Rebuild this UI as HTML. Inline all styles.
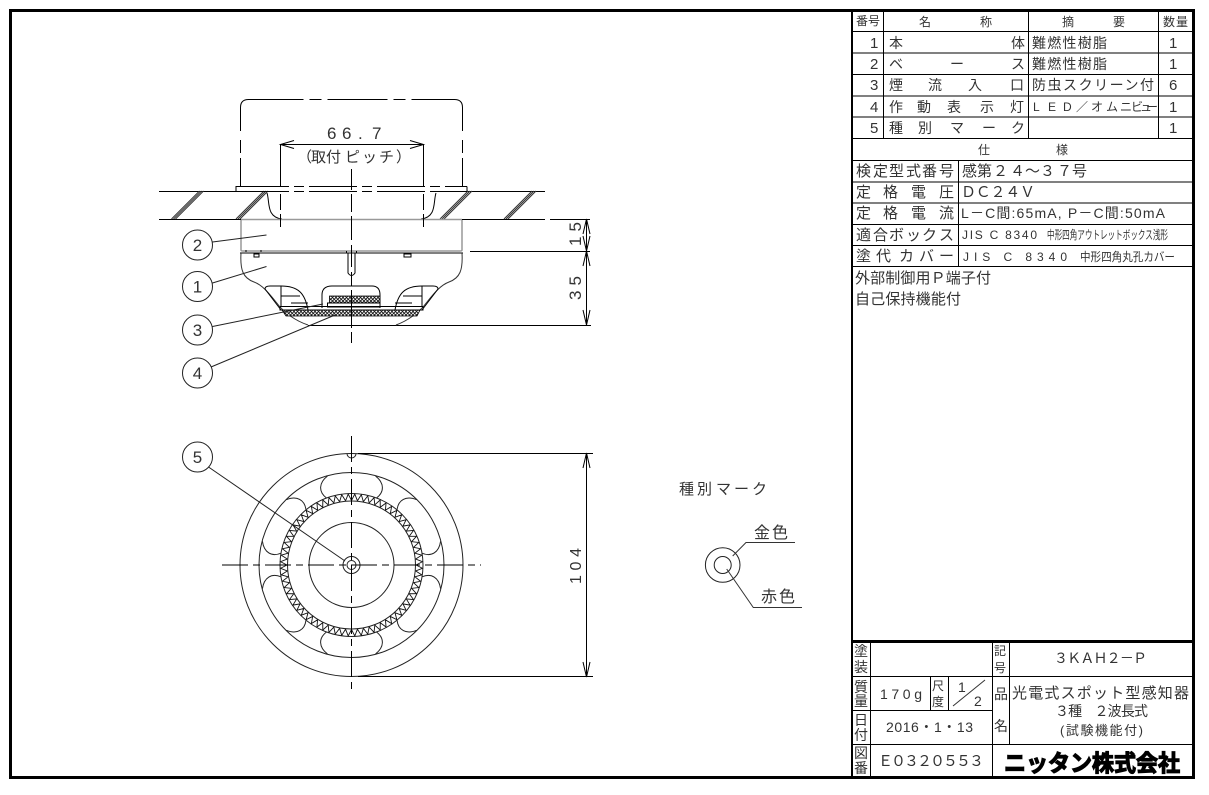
<!DOCTYPE html>
<html><head><meta charset="utf-8"><style>
html,body{margin:0;padding:0;background:#fff;width:1209px;height:795px;overflow:hidden}
svg{display:block}
text{font-family:"Liberation Sans","Noto Sans CJK JP",sans-serif;fill:#333;font-size:14px}
.l{stroke:#000;stroke-width:1;fill:none}
.g{stroke:#999;stroke-width:1.5;fill:none}
.t{stroke:#333;stroke-width:1;fill:none}
.dc{stroke:#000;stroke-width:1;fill:none;stroke-dasharray:48 5 10 5}
.m{font-size:15px}.s{font-size:12px}
</style></head><body>
<svg width="1209" height="795" viewBox="0 0 1209 795" xmlns="http://www.w3.org/2000/svg">
<defs>
<pattern id="hx" width="3.5" height="3.5" patternUnits="userSpaceOnUse"><rect width="3.5" height="3.5" fill="#fff"/><path d="M0 0L3.5 3.5M3.5 0L0 3.5" stroke="#111" stroke-width=".8"/></pattern>
</defs>
<rect x="10.5" y="10.5" width="1183" height="767" fill="none" stroke="#000" stroke-width="3"/>
<path d="M852 11V778" stroke="#000" stroke-width="2"/>
<path d="M852 641.5H1193" stroke="#000" stroke-width="3"/>

<!-- parts table lines -->
<path class="l" d="M853 31.5H1192M853 53H1192M853 74.5H1192M853 96H1192M853 117H1192M853 138.5H1192M853 160.5H1192M853 182H1192M853 203H1192M853 224.5H1192M853 245.5H1192M853 266.5H1192"/>
<path class="l" d="M883.5 11V138M1028.5 11V138M1158.5 11V138M958.5 160V266"/>
<!-- title block lines -->
<path class="l" d="M853 676.5H1192M853 710.5H992M853 744.5H1192"/>
<path class="l" d="M870.5 642V778M930.5 677V710M948.5 677V710M992.5 642V778M1009.5 642V744"/>

<!-- table header -->
<text class="s" x="856 868" y="25">番号</text>
<text class="s" x="919 980" y="26">名称</text>
<text class="s" x="1062 1113" y="26">摘要</text>
<text class="s" x="1163 1176" y="26">数量</text>
<text class="m" x="870" y="48">1</text><text class="m" x="870" y="69">2</text><text class="m" x="870" y="90">3</text><text class="m" x="870" y="112">4</text><text class="m" x="870" y="133">5</text>
<text class="m" x="1169" y="48">1</text><text class="m" x="1169" y="69">1</text><text class="m" x="1169" y="90">6</text><text class="m" x="1169" y="112">1</text><text class="m" x="1169" y="133">1</text>
<text x="889 1011" y="48">本体</text>
<text x="889 950 1011" y="69">ベース</text>
<text x="889 928 968 1010" y="90">煙流入口</text>
<text x="889 917 947 980 1010" y="112">作動表示灯</text>
<text x="889 918 950 982 1011" y="133">種別マーク</text>
<text x="1032" y="48" textLength="75">難燃性樹脂</text>
<text x="1032" y="69" textLength="75">難燃性樹脂</text>
<text x="1032" y="90" textLength="122">防虫スクリーン付</text>
<text class="s" x="1033 1048 1063 1076 1091 1106 1120 1131 1140 1146" y="111">LED／オムニビュー</text>
<text x="978 1056" y="154" class="s">仕様</text>

<text class="m" x="856 873 889 906 922 939" y="176">検定型式番号</text>
<text class="m" x="962 977 993 1010 1025 1040 1057 1072" y="176">感第２４～３７号</text>
<text class="m" x="856 883 911 939" y="197">定格電圧</text>
<text class="m" x="961" y="197" textLength="74">ＤＣ２４Ｖ</text>
<text class="m" x="856 883 911 939" y="218">定格電流</text>
<text x="961" y="218" textLength="204">L－C間:65mA, P－C間:50mA</text>
<text class="m" x="856 873 889 906 922 939" y="240">適合ボックス</text>
<text class="s" x="962" y="239" textLength="75" lengthAdjust="spacing">JIS C 8340</text>
<text class="s" x="1047" y="239" textLength="121" lengthAdjust="spacingAndGlyphs">中形四角アウトレットボックス浅形</text>
<text class="m" x="856 876 899 919 939" y="261">塗代カバー</text>
<text class="s" x="963" y="261" textLength="104" lengthAdjust="spacing">JIS C 8340</text>
<text class="s" x="1080" y="261" textLength="95" lengthAdjust="spacingAndGlyphs">中形四角丸孔カバー</text>
<text class="m" x="855" y="283" textLength="136">外部制御用Ｐ端子付</text>
<text class="m" x="855" y="304" textLength="106">自己保持機能付</text>

<!-- title block -->
<text x="854" y="656">塗</text><text x="854" y="672">装</text>
<text x="854" y="692">質</text><text x="854" y="706">量</text>
<text x="854" y="725">日</text><text x="854" y="740">付</text>
<text x="854" y="758">図</text><text x="854" y="773">番</text>
<text x="994" y="655" class="s">記</text><text x="994" y="672" class="s">号</text>
<text x="994" y="699">品</text><text x="994" y="731">名</text>
<text x="932" y="690" class="s">尺</text><text x="932" y="706" class="s">度</text>
<text x="1054" y="663" textLength="93">３ＫＡＨ２－Ｐ</text>
<text x="1012" y="698" class="m" textLength="177">光電式スポット型感知器</text>
<text x="1055" y="716" textLength="93">３種　２波長式</text>
<text x="1060" y="735" style="font-size:13px" textLength="83">(試験機能付)</text>
<text x="880" y="699" textLength="42">170g</text>
<text x="886" y="732" textLength="87">2016・1・13</text>
<text x="878" y="766" textLength="106" class="m">Ｅ０３２０５５３</text>
<text x="958" y="692">1</text><text x="974" y="706">2</text>
<path class="t" d="M953 706L985 680"/>
<text x="1004" y="771" textLength="176" lengthAdjust="spacingAndGlyphs" style="font-size:23px;font-weight:bold;fill:#000;stroke:#000;stroke-width:1.2">ニッタン株式会社</text>

<!-- side view: ceiling -->
<path class="l" d="M159 191.5H268M436 191.5H545M159 219.5H241M462 219.5H545M550 219.5H590M470 251.5H590M308 325.5H591"/>
<path class="l" d="M236 191V186.5H241M467 186.5V191"/>
<path class="t" d="M171.5 219L199.5 191M173.5 219L201.5 191M175.5 219L203.5 191M236 219L264 191M238 219L266 191M240 219L268 191M440 219L468 191M442 219L470 191M444 219L472 191M504 219L532 191M506 219L534 191M508 219L536 191"/>
<path class="dc" d="M241 186.5H467M241 191.5H467" stroke-dasharray="65 5 14 5"/>
<path class="l" stroke-dasharray="55 6 12 6 60 6 12 6" d="M248.5 99.5H455"/>
<path class="l" d="M240.5 131V107.5Q240.5 99.5 248.5 99.5M462.5 131V107.5Q462.5 99.5 454.5 99.5M240.5 140V153M462.5 140V153M240.5 158V186M462.5 158V186"/>
<path class="l" d="M267 193C270 202 266 217 282 219M436 193C433 202 437 217 421 219"/>
<path class="g" d="M241 219.5H462M241 220V250Q241 251 243 251H460Q462 251 462 250V220"/>
<path class="l" d="M240 253H463"/>
<!-- body -->
<path class="t" stroke="#111" d="M241 253C240 270 243 278 254 282C262 285 268 292 276 302C284 313 296 321 308 325M462 253C463 270 460 278 449 282C441 285 435 292 427 302C419 313 407 321 396 325"/>
<!-- cavity -->
<path class="l" d="M265 289Q265 286 270 286H281C298 286 305 293 308 310"/>
<path class="l" d="M265 289L281 310M438 289L422 310M438 289Q438 286 433 286H422C405 286 398 293 395 310"/>
<path class="l" d="M281 286V306M422 286V306M281 296H300M422 296H403M291 303H308M412 303H395"/>
<path class="l" d="M280 306.5H423V310H280Z"/>
<path class="l" d="M322 308V295Q322 286 332 286H372Q380 286 380 295V308"/>
<path d="M329.5 296H380V303H329.5Z" fill="url(#hx)" stroke="#000" stroke-width=".8"/>
<path class="l" d="M327.5 303H380V307H327.5Z"/>
<path d="M282 310H420L417 316H286Z" fill="url(#hx)" stroke="#000" stroke-width=".8"/>
<!-- post, screws -->
<path class="l" d="M348 253V273Q351.5 278 355 273V253M346.5 253V251M356.5 253V251"/>
<path class="l" d="M254 254H259V257H254ZM404 254H411V257H404Z"/>
<path class="l" d="M261 252V250M246 252V250"/>
<!-- center + pitch lines -->
<path class="l" d="M351.5 169V190M351.5 194V212M351.5 216V240M351.5 245V267M351.5 272V286M351.5 290V328M351.5 332V343"/>
<path class="l" d="M280.5 144V186M280.5 194V210M280.5 214V227M423.5 144V186M423.5 194V210M423.5 214V227"/>
<path class="l" d="M280.5 144.5H423.5M294 140.5L280.5 144.5L294 148.5M410 140.5L423.5 144.5L410 148.5"/>
<text x="327 342 358 372" y="139" style="font-size:17px">66.7</text>
<text x="297 311 326 345 362 379 396" y="162" style="font-size:15px">（取付ピッチ）</text>

<!-- side dimensions -->
<path class="l" d="M586.5 219V325M583 234L586.5 219L590 234M583 236L586.5 251L590 236M583 266L586.5 251L590 266M583 310L586.5 325L590 310"/>
<text transform="translate(581,246) rotate(-90)" style="font-size:17px" textLength="24">15</text>
<text transform="translate(581,300) rotate(-90)" style="font-size:17px" textLength="24">35</text>

<!-- bubbles -->
<g fill="none" stroke="#222" stroke-width="1">
<circle cx="197.5" cy="245" r="15"/><circle cx="197.5" cy="286.5" r="15"/><circle cx="197.5" cy="330" r="15"/><circle cx="197.5" cy="373" r="15"/><circle cx="197.5" cy="457" r="15"/>
<path d="M212.5 242L266.5 235M212.5 283L266.5 266.5M212.5 326.5L323 304M211 367L335 315M208.5 467L345 561"/>
</g>
<text x="197.5" y="251" text-anchor="middle" style="font-size:17px">2</text>
<text x="197.5" y="292.5" text-anchor="middle" style="font-size:17px">1</text>
<text x="197.5" y="336" text-anchor="middle" style="font-size:17px">3</text>
<text x="197.5" y="379" text-anchor="middle" style="font-size:17px">4</text>
<text x="197.5" y="463" text-anchor="middle" style="font-size:17px">5</text>

<!-- plan view -->
<g fill="none" stroke="#222" stroke-width="1">
<circle cx="351.5" cy="565" r="111.5"/><circle cx="351.5" cy="565" r="92.5"/>
<circle cx="351.5" cy="565" r="71.5"/><circle cx="351.5" cy="565" r="64"/>
<circle cx="351.5" cy="565" r="42.5"/><circle cx="351.5" cy="565" r="8.5"/><circle cx="351.5" cy="565" r="4.5"/>
<path id="zz" stroke="#111" stroke-width=".9" d=""/>
<path d="M347 453.5A4.5 4.5 0 0 0 356 453.5"/>
<g transform="translate(351.5 565)">
<path d="M-25 -67C-33 -73 -33 -82 -24 -89M25 -67C33 -73 33 -82 24 -89"/>
<path transform="rotate(60)" d="M-25 -67C-33 -73 -33 -82 -24 -89M25 -67C33 -73 33 -82 24 -89"/>
<path transform="rotate(120)" d="M-25 -67C-33 -73 -33 -82 -24 -89M25 -67C33 -73 33 -82 24 -89"/>
<path transform="rotate(180)" d="M-25 -67C-33 -73 -33 -82 -24 -89M25 -67C33 -73 33 -82 24 -89"/>
<path transform="rotate(240)" d="M-25 -67C-33 -73 -33 -82 -24 -89M25 -67C33 -73 33 -82 24 -89"/>
<path transform="rotate(300)" d="M-25 -67C-33 -73 -33 -82 -24 -89M25 -67C33 -73 33 -82 24 -89"/>
</g>
</g>
<path class="l" stroke-dasharray="26 5 7 5" d="M222 565H481"/>
<path class="l" stroke-dasharray="26 5 7 5" d="M351.5 436V690"/>
<path class="l" d="M358 453.5H593M358 676.5H593M586.5 453V677M583 468L586.5 453L590 468M583 662L586.5 677L590 662"/>
<text transform="translate(581,584) rotate(-90)" style="font-size:16px" textLength="36">104</text>

<!-- mark -->
<text x="679 697 716 734 752" y="494" class="m">種別マーク</text>
<circle cx="722.7" cy="565" r="17.3" fill="none" stroke="#222"/>
<circle cx="722.7" cy="565" r="8.5" fill="none" stroke="#222"/>
<path class="t" d="M732.7 556L746 542.5H795M726.7 569L753.3 607.5H802"/>
<text x="754" y="538" textLength="34" style="font-size:16px">金色</text>
<text x="761" y="602" textLength="34" style="font-size:16px">赤色</text>
</svg>
<script>
var d="",n=68,cx=351.5,cy=565;
for(var i=0;i<=n*2;i++){var a=i*Math.PI/n,r=(i%2)?71:64.5;d+=(i?"L":"M")+(cx+r*Math.cos(a)).toFixed(2)+" "+(cy+r*Math.sin(a)).toFixed(2);}
document.getElementById("zz").setAttribute("d",d);
</script>
</body></html>
